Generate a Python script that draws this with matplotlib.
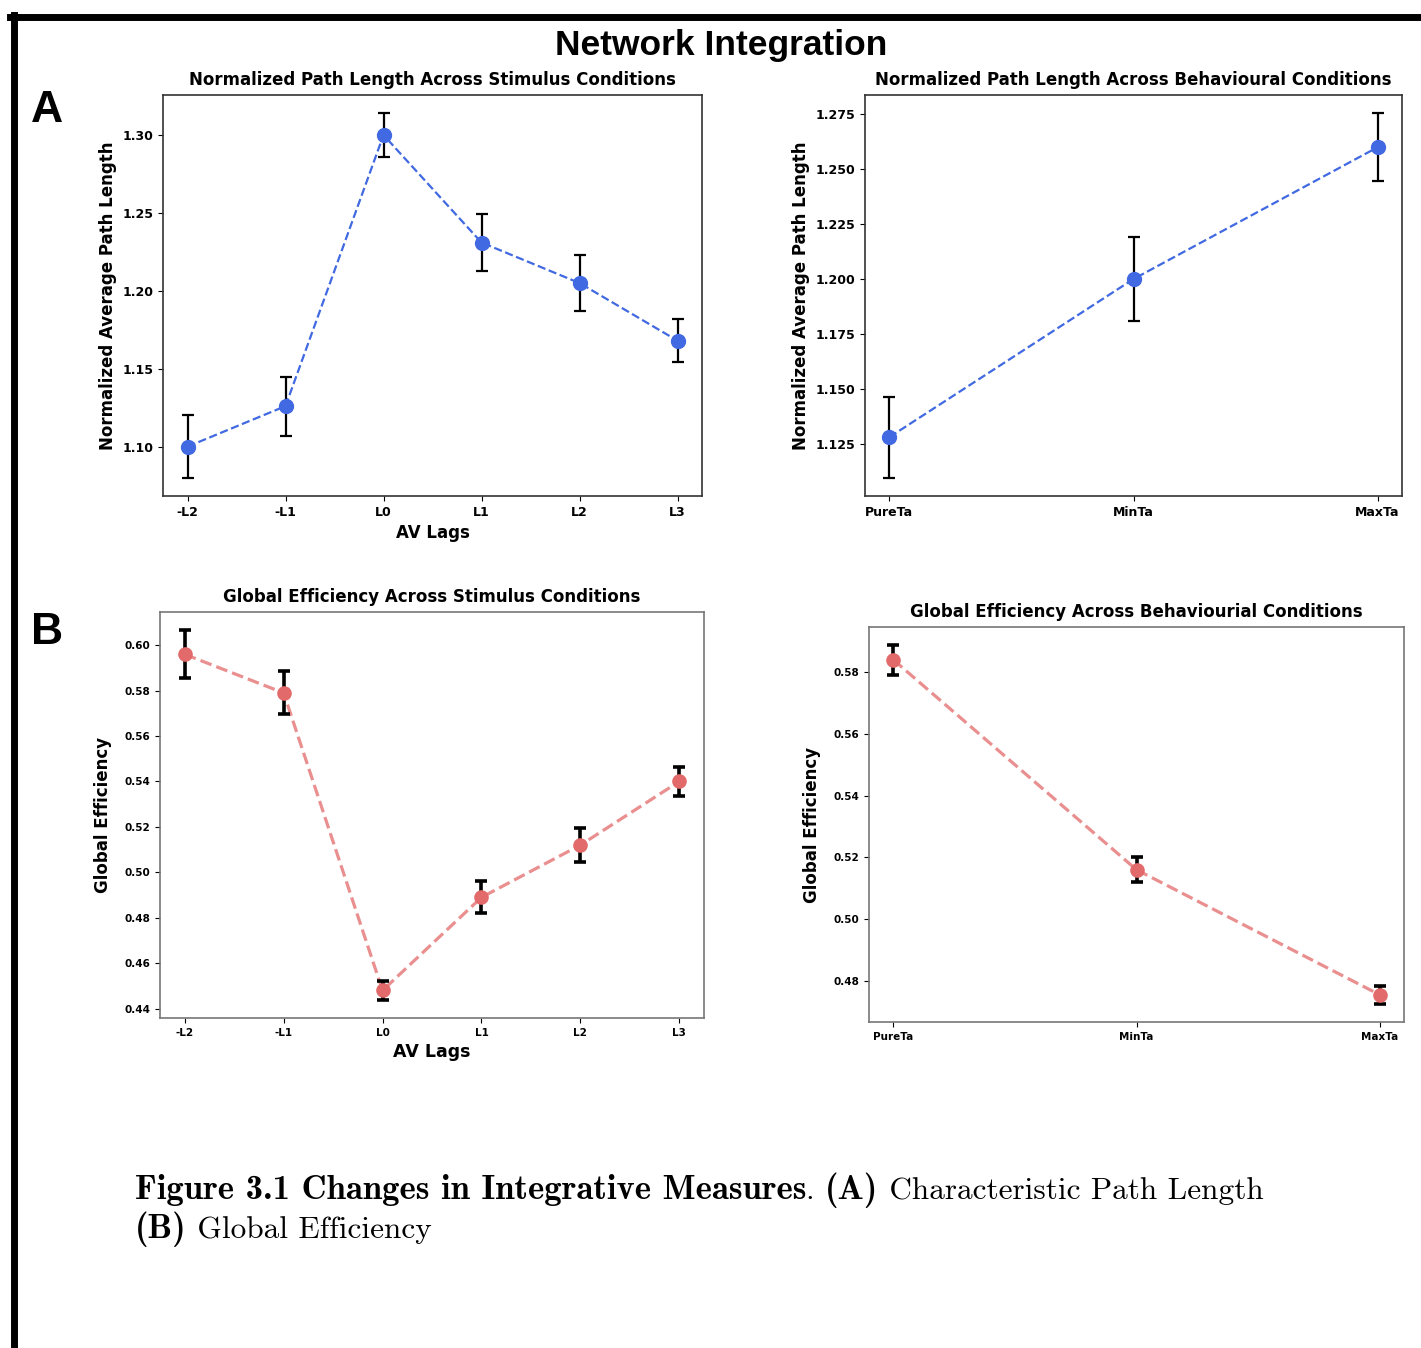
import matplotlib
matplotlib.use('Agg')
import matplotlib.pyplot as plt
from matplotlib.lines import Line2D
from matplotlib.offsetbox import TextArea, HPacker, AnnotationBbox

# data
lags = ['-L2', '-L1', 'L0', 'L1', 'L2', 'L3']
behav = ['PureTa', 'MinTa', 'MaxTa']

path_lag = [1.100, 1.126, 1.300, 1.231, 1.205, 1.168]
path_lag_err = [0.020, 0.019, 0.014, 0.018, 0.018, 0.014]
path_beh = [1.128, 1.200, 1.260]
path_beh_err = [0.0185, 0.019, 0.0155]

eff_lag = [0.596, 0.579, 0.448, 0.489, 0.512, 0.540]
eff_lag_err = [0.0105, 0.0095, 0.004, 0.007, 0.0075, 0.0065]
eff_beh = [0.584, 0.516, 0.4755]
eff_beh_err = [0.0048, 0.004, 0.003]

W, H = 1421, 1348
fig = plt.figure(figsize=(W / 100, H / 100), dpi=100)


def box(x0, y0, x1, y1):
    # pixel box -> figure fraction
    return [x0 / W, 1 - y1 / H, (x1 - x0) / W, (y1 - y0) / H]


def panel(rect, labels, vals, errs, title, ylabel, xlabel, col, ms, lw,
          fs_tick, fs_title, fs_ylab, fs_xlab, elw, spine_col, alpha=1.0,
          ypad=4):
    ax = fig.add_axes(rect)
    x = list(range(len(labels)))
    ax.errorbar(x, vals, yerr=errs, fmt='o', color=col, ecolor='black',
                elinewidth=elw, capsize=4, capthick=elw, markersize=ms,
                zorder=3)
    ax.plot(x, vals, '--', color=col, lw=lw, alpha=alpha, zorder=2)
    ax.set_xticks(x)
    ax.set_xticklabels(labels, fontsize=fs_tick, fontweight='bold')
    for t in ax.get_yticklabels():
        t.set_fontsize(fs_tick)
        t.set_fontweight('bold')
    ax.set_title(title, fontsize=fs_title, fontweight='bold', pad=7)
    ax.set_ylabel(ylabel, fontsize=fs_ylab, fontweight='bold', labelpad=ypad)
    if xlabel:
        ax.set_xlabel(xlabel, fontsize=fs_xlab, fontweight='bold')
    for s in ax.spines.values():
        s.set_color(spine_col)
        s.set_linewidth(1.2)
    return ax


blue = '#4169E1'
red = '#e36a6a'

panel(box(163, 95, 702, 496), lags, path_lag, path_lag_err,
      'Normalized Path Length Across Stimulus Conditions',
      'Normalized Average Path Length', 'AV Lags', blue, 10, 1.6,
      9, 12, 12, 12, 1.6, '#333333')
panel(box(865, 95, 1402, 496), behav, path_beh, path_beh_err,
      'Normalized Path Length Across Behavioural Conditions',
      'Normalized Average Path Length', None, blue, 10, 1.6,
      9, 12, 12, 12, 1.6, '#333333')
panel(box(160, 612, 704, 1018), lags, eff_lag, eff_lag_err,
      'Global Efficiency Across Stimulus Conditions',
      'Global Efficiency', 'AV Lags', red, 9.5, 2.3,
      7.5, 12, 12, 12.5, 2.6, '#777777', alpha=0.75, ypad=9)
panel(box(869, 627, 1404, 1022), behav, eff_beh, eff_beh_err,
      'Global Efficiency Across Behaviourial Conditions',
      'Global Efficiency', None, red, 9.5, 2.3,
      7.5, 12, 12, 12.5, 2.6, '#777777', alpha=0.75, ypad=9)

# frame lines of the page
fig.add_artist(Line2D([10 / W, 1], [1 - 17 / H, 1 - 17 / H], color='black', lw=5))
fig.add_artist(Line2D([14 / W, 14 / W], [0, 1 - 15 / H], color='black', lw=5))

fig.text(721 / W, 1 - 45 / H, 'Network Integration', ha='center', va='center',
         fontsize=25.5, fontweight='bold', family=['Liberation Sans Narrow', 'Liberation Sans'])
fig.text(47 / W, 1 - 110 / H, 'A', ha='center', va='center', fontsize=32,
         fontweight='bold', family='Liberation Sans')
fig.text(47 / W, 1 - 632 / H, 'B', ha='center', va='center', fontsize=32,
         fontweight='bold', family='Liberation Sans')

# caption, bold and regular Computer Modern pieces side by side
bold = dict(family='cmb10', size=25)
reg = dict(family='cmr10', size=22.5)


def caption_line(parts, y):
    areas = [TextArea(t, textprops=dict(color='black', **p)) for t, p in parts]
    pack = HPacker(children=areas, pad=0, sep=0, align='baseline')
    ab = AnnotationBbox(pack, (135 / W, 1 - y / H), xycoords='figure fraction',
                        box_alignment=(0, 0.5), frameon=False, pad=0)
    fig.add_artist(ab)


caption_line([('Figure 3.1 Changes in Integrative Measures', bold),
              ('. ', reg), ('(A)', bold),
              (' Characteristic Path Length', reg)], 1190)
caption_line([('(B)', bold), (' Global Efficiency', reg)], 1229)

fig.savefig('out.png', dpi=100)
